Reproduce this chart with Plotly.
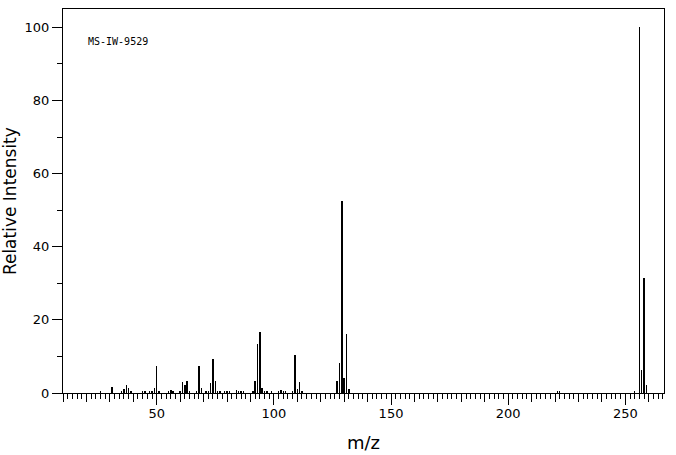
import plotly.graph_objects as go

# m/z values and relative intensities
mz = [26, 31, 35, 36, 37, 38, 39, 44, 45, 47, 48, 49, 50, 51, 55, 56, 57,
      60, 61, 62, 63, 64, 67, 68, 69, 71, 72, 73, 74, 75, 76, 77, 79, 80, 81,
      84, 85, 86, 87, 91, 92, 93, 94, 95, 96, 97, 99, 102, 103, 104, 105,
      108, 109, 110, 111, 112, 127, 128, 129, 130, 131, 132, 221, 222, 254,
      256, 257, 258, 259]
intensity = [0.4, 1.6, 0.4, 1.0, 2.3, 1.3, 0.4, 0.4, 0.4, 0.4, 0.4, 1.3, 7.5, 0.5, 0.4, 0.8, 0.5,
             0.6, 2.9, 2.3, 3.4, 0.3, 0.4, 7.5, 1.4, 0.3, 0.6, 2.6, 9.2, 3.4, 0.3, 0.3, 0.3, 0.3, 0.3,
             0.8, 0.5, 0.3, 0.3, 0.3, 3.2, 13.4, 16.6, 1.3, 0.3, 0.3, 0.3, 0.3, 0.8, 0.3, 0.3,
             0.3, 10.4, 1.1, 3.1, 0.3, 3.4, 8.1, 52.4, 4.0, 16.0, 1.0, 0.3, 0.3, 0.3,
             100, 6.4, 31.5, 2.1]

x_tens = list(range(10, 261, 10))
x_tick_text = [str(v) if v % 50 == 0 else "" for v in x_tens]
x_fifties = [50, 100, 150, 200, 250]
y_ticks = [0, 20, 40, 60, 80, 100]

fig = go.Figure()
fig.add_trace(go.Bar(x=mz, y=intensity, width=0.2,
                     marker=dict(color="black", line=dict(width=0)),
                     hoverinfo="x+y"))
# helper invisible trace to render the overlay axis carrying the long 50-ticks
fig.add_trace(go.Scatter(x=[10], y=[0], mode="markers", marker=dict(opacity=0),
                         xaxis="x2", hoverinfo="skip", showlegend=False))

font_main = "DejaVu Sans"
fig.update_layout(
    width=676, height=455,
    margin=dict(l=63, r=12, t=9, b=62),
    paper_bgcolor="white", plot_bgcolor="white",
    showlegend=False,
    bargap=0,
    font=dict(family=font_main, size=13, color="black"),
    xaxis=dict(
        range=[10, 266.5], showgrid=False, zeroline=False, automargin=False,
        showline=True, linecolor="black", linewidth=1, mirror=True,
        tickmode="array", tickvals=x_tens, ticktext=x_tick_text,
        ticks="outside", ticklen=8, tickwidth=1, tickcolor="black",
        minor=dict(dtick=2, tick0=0, ticks="outside", ticklen=5, tickwidth=1, tickcolor="black"),
        tickfont=dict(family=font_main, size=13, color="black"),
    ),
    xaxis2=dict(
        range=[10, 266.5], overlaying="x", anchor="y", side="bottom", automargin=False,
        showgrid=False, zeroline=False, showline=False, showticklabels=False,
        tickmode="array", tickvals=x_fifties,
        ticks="outside", ticklen=11, tickwidth=1, tickcolor="black",
    ),
    yaxis=dict(
        range=[0, 105], showgrid=False, zeroline=False, automargin=False,
        showline=True, linecolor="black", linewidth=1, mirror=True,
        tickmode="array", tickvals=y_ticks,
        ticks="outside", ticklen=10, tickwidth=1, tickcolor="black",
        minor=dict(dtick=10, tick0=10, ticks="outside", ticklen=5, tickwidth=1, tickcolor="black"),
        tickfont=dict(family=font_main, size=13, color="black"),
    ),
    annotations=[
        dict(text="MS-IW-9529", xref="paper", yref="paper", x=0.039, y=0.915,
             xanchor="left", yanchor="middle", showarrow=False,
             font=dict(family="DejaVu Sans Mono", size=10, color="black")),
        dict(text="m/z", xref="paper", yref="paper", x=0.5, y=-0.13,
             xanchor="center", yanchor="middle", showarrow=False,
             font=dict(family=font_main, size=18, color="black")),
        dict(text="Relative Intensity", xref="paper", yref="paper", x=-0.088, y=0.5,
             xanchor="center", yanchor="middle", showarrow=False, textangle=-90,
             font=dict(family=font_main, size=17, color="black")),
    ],
)

# remove the browser's default 8px body margin so the figure fills the window exactly
fig.write_html("out.html", config={"displayModeBar": False},
               post_script="document.body.style.margin='0';")
